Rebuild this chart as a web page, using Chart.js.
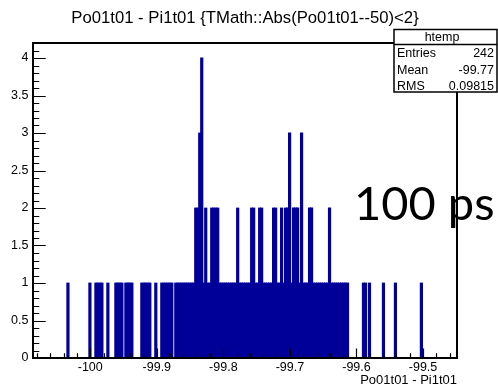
<!DOCTYPE html>
<html>
<head>
<meta charset="utf-8">
<script src="https://cdn.jsdelivr.net/npm/chart.js@4"></script>
<style>
  html, body { margin: 0; padding: 0; background: #fff; }
  #histo { display: block; }
</style>
</head>
<body>
<canvas id="histo" width="498" height="385"></canvas>
<script>
// bin centres (Po01t01 - Pi1t01) and counts
const binX = [
  -100.0335, -100.0005,
  -99.9915, -99.9885, -99.9855, -99.9825,
  -99.9735,
  -99.9615, -99.9585, -99.9555, -99.9525,
  -99.9465, -99.9435, -99.9405, -99.9375,
  -99.9225, -99.9195, -99.9165, -99.9135, -99.9105,
  -99.9015,
  -99.8925, -99.8895, -99.8865, -99.8835, -99.8805, -99.8775,
  -99.8715, -99.8685, -99.8655, -99.8625, -99.8595, -99.8565, -99.8535, -99.8505, -99.8475, -99.8445,
  -99.8415, -99.8385, -99.8355, -99.8325, -99.8295, -99.8265, -99.8235, -99.8205, -99.8175, -99.8145,
  -99.8115, -99.8085, -99.8055, -99.8025, -99.7995, -99.7965, -99.7935, -99.7905, -99.7875, -99.7845,
  -99.7815, -99.7785, -99.7755, -99.7725, -99.7695, -99.7665, -99.7635, -99.7605, -99.7575, -99.7545,
  -99.7515, -99.7485, -99.7455, -99.7425, -99.7395, -99.7365, -99.7335, -99.7305, -99.7275, -99.7245,
  -99.7215, -99.7185, -99.7155, -99.7125, -99.7095, -99.7065, -99.7035, -99.7005, -99.6975, -99.6945,
  -99.6915, -99.6885, -99.6855, -99.6825, -99.6795, -99.6765, -99.6735, -99.6705, -99.6675, -99.6645,
  -99.6615, -99.6585, -99.6555, -99.6525, -99.6495, -99.6465, -99.6435, -99.6405, -99.6375, -99.6345,
  -99.6315, -99.6285, -99.6255, -99.6225, -99.6195, -99.6165, -99.6135,
  -99.5895, -99.5865, -99.5805,
  -99.5595,
  -99.5415,
  -99.5025
];
const binCount = [
  1, 1,
  1, 1, 1, 1,
  1,
  1, 1, 1, 1,
  1, 1, 1, 1,
  1, 1, 1, 1, 1,
  1,
  1, 1, 1, 1, 1, 1,
  1, 1, 1, 1, 1, 1, 1, 1, 1, 1,
  2, 2, 3, 4, 1, 2, 1, 1, 2, 2,
  2, 2, 1, 1, 1, 1, 1, 1, 1, 1,
  1, 2, 1, 1, 1, 1, 1, 1, 2, 2,
  1, 1, 2, 2, 1, 1, 1, 1, 1, 2,
  2, 1, 1, 2, 1, 2, 2, 3, 1, 2,
  2, 2, 1, 3, 1, 1, 1, 2, 2, 1,
  1, 1, 1, 1, 1, 1, 1, 2, 1, 1,
  1, 1, 1, 1, 1, 1, 1,
  1, 1, 1,
  1,
  1,
  1
];

const xTicks = [-100, -99.9, -99.8, -99.7, -99.6, -99.5];
const xTickLabels = ["-100", "-99.9", "-99.8", "-99.7", "-99.6", "-99.5"];
const yTicks = [0, 0.5, 1, 1.5, 2, 2.5, 3, 3.5, 4];
const yTickLabels = ["0", "0.5", "1", "1.5", "2", "2.5", "3", "3.5", "4"];

const titleText = "Po01t01 - Pi1t01 {TMath::Abs(Po01t01--50)<2}";
const xTitle = "Po01t01 - Pi1t01";
const statsName = "htemp";
const statsRows = [["Entries", "242"], ["Mean", "-99.77"], ["RMS", "0.09815"]];
const noteText = "100 ps";

const X_MIN = -100.086, X_MAX = -99.449;
const Y_MIN = 0, Y_MAX = 4.2;
const HELV = '"Liberation Sans", Arial, sans-serif';

// ROOT-ish frame, inward ticks, labels, stats box and the overlay text
const rootDecor = {
  id: "rootDecor",
  afterDraw(chart) {
    const ctx = chart.ctx;
    const a = chart.chartArea;
    const xs = chart.scales.x, ys = chart.scales.y;
    ctx.save();

    // minor/major ticks
    ctx.strokeStyle = "#000";
    ctx.lineWidth = 1.2;
    ctx.beginPath();
    for (let i = Math.ceil(X_MIN * 50); i / 50 <= X_MAX; i++) {
      const px = Math.round(xs.getPixelForValue(i / 50)) + 0.5;
      const len = i % 5 === 0 ? 9.5 : 4.7;
      ctx.moveTo(px, a.bottom);
      ctx.lineTo(px, a.bottom - len);
    }
    for (let i = 0; i / 10 <= Y_MAX + 1e-9; i++) {
      const py = Math.round(ys.getPixelForValue(i / 10)) + 0.5;
      const len = i % 5 === 0 ? 12.7 : 6.3;
      ctx.moveTo(a.left, py);
      ctx.lineTo(a.left + len, py);
    }
    ctx.stroke();

    // frame
    ctx.lineWidth = 2;
    ctx.strokeRect(a.left, a.top, a.right - a.left, a.bottom - a.top);

    // tick labels
    ctx.fillStyle = "#000";
    ctx.font = "12.5px " + HELV;
    ctx.textAlign = "center";
    ctx.textBaseline = "alphabetic";
    xTicks.forEach((v, i) => {
      ctx.fillText(xTickLabels[i], xs.getPixelForValue(v), 371);
    });
    ctx.textAlign = "right";
    ctx.textBaseline = "middle";
    yTicks.forEach((v, i) => {
      ctx.fillText(yTickLabels[i], 28.5, ys.getPixelForValue(v));
    });

    // axis title
    ctx.font = "13px " + HELV;
    ctx.textAlign = "right";
    ctx.textBaseline = "alphabetic";
    ctx.fillText(xTitle, a.right, 383.5);

    // histogram title
    ctx.font = "16.7px " + HELV;
    ctx.textAlign = "center";
    ctx.fillText(titleText, 245, 23);

    // stats box
    const bx = 394, by = 29.5, bw = 103, bh = 62.5;
    ctx.fillStyle = "#fff";
    ctx.fillRect(bx, by, bw, bh);
    ctx.lineWidth = 1.5;
    ctx.strokeRect(bx, by, bw, bh);
    ctx.beginPath();
    ctx.moveTo(bx, 44.5);
    ctx.lineTo(bx + bw, 44.5);
    ctx.stroke();
    ctx.fillStyle = "#000";
    ctx.font = "12.5px " + HELV;
    ctx.textAlign = "center";
    ctx.fillText(statsName, 442, 40.5);
    statsRows.forEach((r, i) => {
      const yb = 57 + i * 16.6;
      ctx.textAlign = "left";
      ctx.fillText(r[0], 397, yb);
      ctx.textAlign = "right";
      ctx.fillText(r[1], 494, yb);
    });

    // big annotation
    ctx.font = '47px Lato, "Open Sans", sans-serif';
    ctx.textAlign = "left";
    ctx.fillText(noteText, 354, 220);

    ctx.restore();
  }
};

const ctx = document.getElementById("histo").getContext("2d");
new Chart(ctx, {
  type: "bar",
  data: {
    datasets: [{
      label: statsName,
      data: binX.map((x, i) => ({ x: x, y: binCount[i] })),
      backgroundColor: "#000099",
      borderColor: "#000099",
      borderWidth: 0,
      barThickness: 2.4,
      inflateAmount: 0.4,
      grouped: false
    }]
  },
  options: {
    responsive: false,
    animation: false,
    layout: { padding: { left: 33, top: 43, right: 41, bottom: 27 } },
    plugins: { legend: { display: false }, tooltip: { enabled: false } },
    scales: {
      x: { type: "linear", min: X_MIN, max: X_MAX, offset: false, display: false },
      y: { min: Y_MIN, max: Y_MAX, display: false }
    }
  },
  plugins: [rootDecor]
});
</script>
</body>
</html>
